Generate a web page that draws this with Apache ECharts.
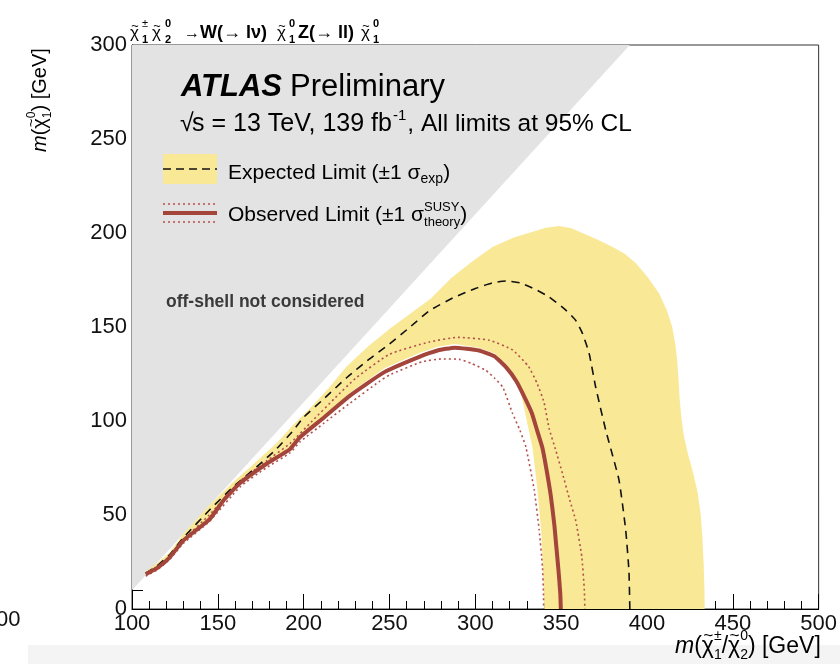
<!DOCTYPE html>
<html>
<head>
<meta charset="utf-8">
<script src="https://cdn.jsdelivr.net/npm/echarts@6/dist/echarts.min.js"></script>
<style>
  html, body { margin: 0; padding: 0; background: #fff; }
  #chart { width: 840px; height: 664px; }
</style>
</head>
<body>
<div id="chart"></div>
<script>
// Axis ranges and tick spacing
const xRange = [100, 500];
const yRange = [0, 300];
const xStep = 50;
const yStep = 50;

// Kinematic boundary m(chi1) = m(chi2) - 90: region above it is off-shell
const offShellRegion = [[100, 10], [390, 300], [100, 300]];

// Expected limit contour
const expectedLimit = [
  [108, 19], [114, 22.5], [122, 29], [130, 38], [145, 52.5], [159, 65], [172.5, 75.5],
  [184, 85], [194, 95], [200, 102], [212, 112], [225, 123], [237, 132], [250, 141],
  [262, 150], [273, 158.5], [287, 165.5], [300, 170.5], [310, 173.5], [318, 174.5],
  [326, 173.5], [335, 170], [343, 166], [352.7, 159], [358.5, 153.5], [362.4, 146.6],
  [366.3, 136], [370, 118.5], [376, 95], [383.7, 68.6], [387.6, 42], [389.5, 20], [390, 0]
];

// +1 sigma_exp edge of the expected band
const expectedUpper = [
  [108, 20], [114, 24], [122, 30], [130, 40], [145, 55], [159, 67.5], [172, 78],
  [184, 88], [194, 98], [205, 108], [215, 118], [225, 129], [238, 140], [250, 149],
  [262, 157], [274, 165], [286, 176], [298.4, 185], [310, 192.5], [322, 197.5],
  [333, 200.5], [341, 202.8], [348.8, 203.7], [356, 202.5], [362.4, 200], [371, 196.5],
  [380, 192.5], [387, 189], [393.4, 184], [400, 177], [407, 168], [411.5, 159],
  [414.7, 150], [416.5, 141], [417.6, 132], [418.4, 122], [419, 112], [420, 102],
  [421.5, 92], [424, 82], [427, 72], [429.5, 62], [431.2, 51], [432.3, 38], [433, 24],
  [433.5, 10], [433.6, 0]
];

// -1 sigma_exp edge of the expected band
const expectedLower = [
  [108, 18.5], [115, 22], [122, 27.5], [130, 36.5], [145, 48], [163, 67.5], [178, 77.5],
  [192, 86], [198, 92.5], [212, 103], [227, 115], [247, 128], [267, 136], [278, 139.5],
  [288, 141], [302, 139], [311, 136], [318, 130.5], [324, 122], [327, 113], [330, 100],
  [333.3, 86], [336, 65], [338.5, 40], [339.5, 20], [340.1, 0]
];

// Observed limit contour
const observedLimit = [
  [108, 18.5], [115, 22], [122, 27.5], [130, 36.5], [145, 47.5], [153.5, 58], [163, 67],
  [178, 77], [192, 85], [198, 91.5], [212, 102], [227, 113.5], [247, 126], [267, 134],
  [278, 137.5], [288, 139], [302, 137.5], [311, 134.5], [318, 128.5], [324, 121],
  [329, 112], [333, 104], [336, 95], [339, 86], [341.5, 74], [344, 60], [346, 45],
  [347, 35], [348.5, 20], [349.5, 8], [349.8, 0]
];

// Observed limit shifted by +1 sigma of the signal cross-section
const observedUp = [
  [108, 19], [115, 22.5], [122, 28], [130, 37], [145, 50], [163, 68], [178, 78.5],
  [192, 88], [205, 100], [218, 112], [230.6, 123], [250, 135.5], [273, 142], [290, 144.5],
  [308, 143], [321.7, 137.8], [331, 129], [336, 120], [340, 110], [343, 96], [347, 84],
  [350.8, 72], [355, 58], [358.5, 47], [362, 28], [363.5, 10], [363.8, 0]
];

// Observed limit shifted by -1 sigma of the signal cross-section
const observedDown = [
  [108, 17.5], [115, 21], [122, 26.5], [130, 35], [145, 46.5], [163, 65], [178, 75],
  [192, 83], [198, 89], [212, 99], [227, 109.5], [244, 121], [250, 124.5], [269, 131.5],
  [280, 133], [290.7, 132.8], [298, 130.5], [306, 127], [311, 123], [316, 118],
  [321.7, 104], [326, 95], [329.5, 86], [334.3, 63.3], [337.2, 42], [339.1, 22.5],
  [339.7, 8], [339.8, 0]
];

const C_GRAY = '#e3e3e3';
const C_BAND = '#f9e896';
const C_OBS = '#a4453b';
const C_OBS_DOT = '#b3504c';
const FONT = '"Liberation Sans", Arial, Helvetica, sans-serif';

// ---- text helpers: lay out runs of text with sub/superscripts ----
const measureCtx = document.createElement('canvas').getContext('2d');
function textWidth(p) {
  measureCtx.font = `${p.style || 'normal'} ${p.weight || 'normal'} ${p.size}px ${FONT}`;
  return measureCtx.measureText(p.t).width;
}
function textEl(x, baseline, p) {
  return {
    type: 'text', x: x, y: baseline - 0.32 * p.size, z: 100, silent: true,
    style: {
      text: p.t, fontSize: p.size, fontFamily: FONT,
      fontWeight: p.weight || 'normal', fontStyle: p.style || 'normal',
      fill: p.color || '#000', align: 'left', verticalAlign: 'middle'
    }
  };
}
// tilde accent centred over a glyph
function tildeEl(xc, baseline, size) {
  return {
    type: 'text', x: xc, y: baseline - 0.76 * size, z: 100, silent: true,
    style: {
      text: '~', fontSize: size * 0.75, fontFamily: FONT, fill: '#000',
      align: 'center', verticalAlign: 'middle'
    }
  };
}
function run(x0, baseline, defaults, pieces) {
  let x = x0;
  const out = [];
  pieces.forEach(item => {
    if (item.at !== undefined) x = item.at;
    if (item.stack) {
      let w = 0;
      item.stack.forEach(s => {
        const p = Object.assign({}, defaults, s);
        out.push(textEl(x, baseline + (p.dy || 0), p));
        w = Math.max(w, textWidth(p));
      });
      x += w + (item.gap || 0);
    } else {
      const p = Object.assign({}, defaults, item);
      const w = textWidth(p);
      out.push(textEl(x, baseline + (p.dy || 0), p));
      if (p.tilde) out.push(tildeEl(x + w / 2 + 0.5, baseline + (p.dy || 0), p.size));
      x += w + (p.gap || 0);
    }
  });
  return out;
}

// Process title above the frame
const titleText = run(130, 39, { size: 17 }, [
  { t: 'χ', tilde: true, at: 130 },
  { stack: [{ t: '±', size: 11, dy: -12 }, { t: '1', size: 11, dy: 4, weight: 'bold' }], at: 142 },
  { t: 'χ', tilde: true, at: 152 },
  { stack: [{ t: '0', size: 11, dy: -12, weight: 'bold' }, { t: '2', size: 11, dy: 4, weight: 'bold' }], at: 165 },
  { t: '→', size: 16, at: 184 },
  { t: 'W(→ lν)', size: 18, weight: 'bold', at: 200 },
  { t: 'χ', tilde: true, at: 277 },
  { stack: [{ t: '0', size: 11, dy: -12, weight: 'bold' }, { t: '1', size: 11, dy: 4, weight: 'bold' }], at: 289 },
  { t: 'Z(→ ll)', size: 18, weight: 'bold', at: 298 },
  { t: 'χ', tilde: true, at: 361 },
  { stack: [{ t: '0', size: 11, dy: -12, weight: 'bold' }, { t: '1', size: 11, dy: 4, weight: 'bold' }], at: 373 }
]);

// Experiment label
const atlasText = run(181, 97, { size: 31 }, [
  { t: 'ATLAS', weight: 'bold', style: 'italic', gap: 8 },
  { t: 'Preliminary' }
]);
const energyText = run(181, 132, { size: 25 }, [
  { t: '√', at: 180 },
  { t: 's = 13 TeV, 139 fb', at: 192, gap: 1 },
  { t: '-1', size: 15, dy: -11, gap: 1 },
  { t: ', All limits at 95% CL', size: 24.5 }
]);

// Legend entries
const legendExp = run(228, 180, { size: 21 }, [
  { t: 'Expected Limit (±1 σ' },
  { t: 'exp', size: 14, dy: 4 },
  { t: ')' }
]);
const legendObs = run(228, 222, { size: 21 }, [
  { t: 'Observed Limit (±1 σ' },
  { stack: [{ t: 'SUSY', size: 13, dy: -10 }, { t: 'theory', size: 13, dy: 5 }] },
  { t: ')' }
]);

// Axis titles
const xTitle = run(675, 654, { size: 23 }, [
  { t: 'm', style: 'italic' },
  { t: '(' },
  { t: 'χ', tilde: true },
  { stack: [{ t: '±', size: 14, dy: -13 }, { t: '1', size: 14, dy: 6 }] },
  { t: '/' },
  { t: 'χ', tilde: true },
  { stack: [{ t: '0', size: 14, dy: -13 }, { t: '2', size: 14, dy: 6 }] },
  { t: ') [GeV]' }
]);
const yTitle = run(0, 0, { size: 20 }, [
  { t: 'm', style: 'italic' },
  { t: '(' },
  { t: 'χ', tilde: true },
  { stack: [{ t: '0', size: 12, dy: -11 }, { t: '1', size: 12, dy: 5 }] },
  { t: ') [GeV]' }
]);

// polygon drawn through the cartesian coordinate system
function polygonSeries(name, points, color, z) {
  return {
    name: name, type: 'custom', coordinateSystem: 'cartesian2d',
    data: [points[0]], silent: true, z: z, clip: true, animation: false,
    renderItem: function (params, api) {
      return {
        type: 'polygon',
        shape: { points: points.map(p => api.coord(p)) },
        style: { fill: color }
      };
    }
  };
}
function lineSeries(name, data, lineStyle, z) {
  return {
    name: name, type: 'line', data: data, showSymbol: false, symbol: 'none',
    smooth: 0.15, lineStyle: lineStyle, z: z, silent: true, animation: false
  };
}

const bandPolygon = expectedUpper.concat(expectedLower.slice().reverse());

const axisCommon = {
  type: 'value',
  axisLine: { show: true, lineStyle: { color: '#000', width: 1 } },
  splitLine: { show: false },
  axisLabel: { fontSize: 22, color: '#111', fontFamily: FONT, showMinLabel: true, showMaxLabel: true }
};

const chart = echarts.init(document.getElementById('chart'), null, { renderer: 'canvas' });
chart.setOption({
  animation: false,
  backgroundColor: '#fff',
  grid: {
    left: 132, right: 20, top: 45, bottom: 55,
    show: true, borderColor: '#333', borderWidth: 1, backgroundColor: 'transparent'
  },
  xAxis: Object.assign({}, axisCommon, {
    min: xRange[0], max: xRange[1], interval: xStep,
    axisTick: { show: true, inside: true, length: 15, lineStyle: { color: '#000' } },
    minorTick: { show: true, splitNumber: 5, length: 8, lineStyle: { color: '#000' } },
    axisLabel: Object.assign({}, axisCommon.axisLabel, { margin: 4 })
  }),
  yAxis: Object.assign({}, axisCommon, {
    min: yRange[0], max: yRange[1], interval: yStep,
    axisTick: { show: true, inside: true, length: 22, lineStyle: { color: '#000' } },
    minorTick: { show: true, splitNumber: 5, length: 11, lineStyle: { color: '#000' } },
    axisLabel: Object.assign({}, axisCommon.axisLabel, { margin: 5 })
  }),
  series: [
    polygonSeries('off-shell', offShellRegion, C_GRAY, 1),
    polygonSeries('expected band', bandPolygon, C_BAND, 2),
    lineSeries('observed -1', observedDown, { color: C_OBS_DOT, width: 1.6, type: [2, 3] }, 3),
    lineSeries('observed +1', observedUp, { color: C_OBS_DOT, width: 1.6, type: [2, 3] }, 3),
    lineSeries('expected', expectedLimit, { color: '#111', width: 1.6, type: [8, 6] }, 4),
    lineSeries('observed', observedLimit, { color: C_OBS, width: 4 }, 5)
  ],
  graphic: [
    // strip along the bottom edge
    { type: 'rect', z: -10, silent: true, shape: { x: 28, y: 645, width: 812, height: 19 }, style: { fill: '#f4f4f4' } },
    { type: 'text', x: -4, y: 620, silent: true, style: { text: '00', fontSize: 22, fontFamily: FONT, fill: '#111', verticalAlign: 'middle' } },
    // region label
    { type: 'text', x: 166, y: 302, z: 100, silent: true,
      style: { text: 'off-shell not considered', fontSize: 17.5, fontWeight: 'bold', fontFamily: FONT, fill: '#3a3a3a', verticalAlign: 'middle' } },
    // legend markers
    { type: 'rect', z: 90, silent: true, shape: { x: 163, y: 154, width: 54, height: 30 }, style: { fill: C_BAND } },
    { type: 'line', z: 91, silent: true, shape: { x1: 163, y1: 169, x2: 217, y2: 169 }, style: { stroke: '#111', lineWidth: 1.6, lineDash: [8, 5] } },
    { type: 'line', z: 91, silent: true, shape: { x1: 163, y1: 204, x2: 217, y2: 204 }, style: { stroke: C_OBS_DOT, lineWidth: 1.6, lineDash: [2, 3] } },
    { type: 'line', z: 91, silent: true, shape: { x1: 163, y1: 222, x2: 217, y2: 222 }, style: { stroke: C_OBS_DOT, lineWidth: 1.6, lineDash: [2, 3] } },
    { type: 'line', z: 91, silent: true, shape: { x1: 163, y1: 213, x2: 217, y2: 213 }, style: { stroke: C_OBS, lineWidth: 4 } },
    { type: 'group', x: 47, y: 152, rotation: Math.PI / 2, children: yTitle }
  ].concat(titleText, atlasText, energyText, legendExp, legendObs, xTitle)
});
</script>
</body>
</html>
